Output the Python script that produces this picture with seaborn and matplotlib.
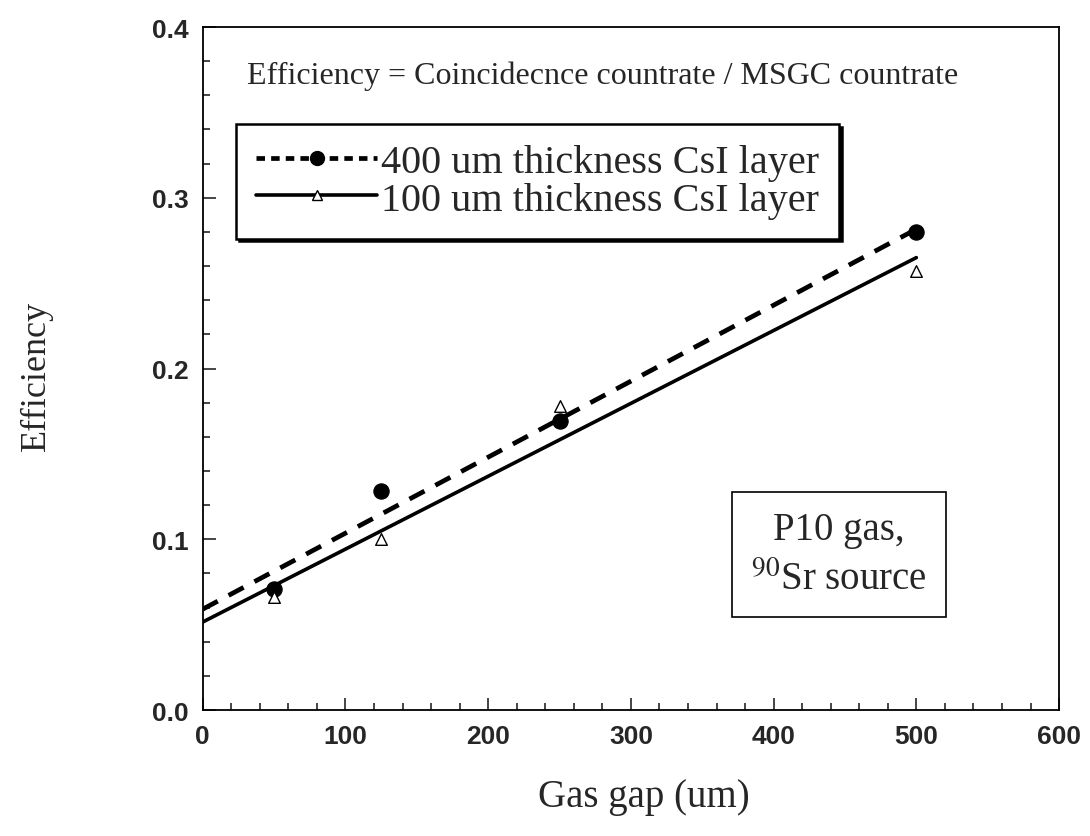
import numpy as np
import pandas as pd
import seaborn as sns
import matplotlib.pyplot as plt
from matplotlib.lines import Line2D
from matplotlib.ticker import MultipleLocator

# Values
gas_gap = [50, 125, 250, 500]
eff_400um = [0.071, 0.128, 0.169, 0.280]
eff_100um = [0.066, 0.100, 0.178, 0.257]

labels = ['400 um thickness CsI layer', '100 um thickness CsI layer']
x_ticks = [0, 100, 200, 300, 400, 500, 600]
y_ticks = [0.0, 0.1, 0.2, 0.3, 0.4]

sns.set_style('ticks')
plt.rcParams['font.family'] = ['Liberation Serif', 'DejaVu Serif']
plt.rcParams['mathtext.fontset'] = 'stix'

df = pd.DataFrame({
    'gap': gas_gap * 2,
    'eff': eff_400um + eff_100um,
    'layer': [labels[0]] * 4 + [labels[1]] * 4,
})

fig = plt.figure(figsize=(10.9, 8.37), dpi=100)
ax = fig.add_axes([0.186, 0.1505, 0.7856, 0.816])

# linear fits, drawn from 0 to the last point
fit_rows = []
for lab, ys in zip(labels, [eff_400um, eff_100um]):
    slope, icpt = np.polyfit(gas_gap, ys, 1)
    for xv in [0, max(gas_gap)]:
        fit_rows.append({'gap': xv, 'eff': icpt + slope * xv, 'layer': lab})
fits = pd.DataFrame(fit_rows)

sns.lineplot(data=fits[fits.layer == labels[0]], x='gap', y='eff', ax=ax,
             color='black', lw=3.4, legend=False)
ax.lines[-1].set_dashes([3.6, 2.6])
sns.lineplot(data=fits[fits.layer == labels[1]], x='gap', y='eff', ax=ax,
             color='black', lw=2.6, legend=False)

d400 = df[df.layer == labels[0]]
d100 = df[df.layer == labels[1]]
sns.scatterplot(data=d400, x='gap', y='eff', ax=ax, marker='o', s=120,
                color='black', edgecolor='black', zorder=5, legend=False)
sns.scatterplot(data=d100, x='gap', y='eff', ax=ax, marker='^', s=70,
                facecolor='white', edgecolor='black', linewidth=1.0,
                zorder=5, legend=False)

ax.set_xlim(0, 600)
ax.set_ylim(0, 0.4)
ax.set_xticks(x_ticks)
ax.set_yticks(y_ticks)
ax.set_xticklabels([str(t) for t in x_ticks])
ax.set_yticklabels([f'{t:.1f}' for t in y_ticks])
ax.xaxis.set_minor_locator(MultipleLocator(20))
ax.yaxis.set_minor_locator(MultipleLocator(0.02))
ax.tick_params(which='both', direction='in', top=False, right=False,
               width=1.2, labelsize=19)
ax.tick_params(which='major', length=9, pad=10)
ax.tick_params(which='minor', length=5)
for t in ax.get_xticklabels() + ax.get_yticklabels():
    t.set_fontfamily(['Liberation Sans', 'DejaVu Sans'])
    t.set_fontweight('bold')
for sp in ax.spines.values():
    sp.set_linewidth(1.3)
    sp.set_color('black')

ax.set_xlabel('Gas gap (um)', fontsize=28)
ax.set_ylabel('Efficiency', fontsize=26)
ax.xaxis.set_label_coords(0.515, -0.1)
ax.yaxis.set_label_coords(-0.175, 0.49)

ax.text(0.052, 0.93, 'Efficiency = Coincidecnce countrate / MSGC countrate',
        transform=ax.transAxes, fontsize=23, va='center', ha='left')

ax.text(0.743, 0.228, 'P10 gas,\n$^{90}$Sr source', transform=ax.transAxes,
        fontsize=28, ha='center', va='center', linespacing=1.45,
        bbox=dict(boxstyle='square,pad=0.5', fc='white', ec='black', lw=1.2))

handles = [
    Line2D([], [], color='black', lw=3.4, dashes=[1.8, 1.3], marker='o',
           markersize=10, markerfacecolor='black'),
    Line2D([], [], color='black', lw=2.6, marker='^', markersize=7,
           markerfacecolor='white', markeredgecolor='black'),
]
leg = ax.legend(handles, labels, loc='upper left', bbox_to_anchor=(0.039, 0.858),
                borderaxespad=0, fontsize=29, frameon=True, fancybox=False,
                shadow={'color': 'black', 'alpha': 1}, handlelength=3.0,
                handletextpad=0.1, borderpad=0.5, labelspacing=0.0)
leg.get_frame().set_edgecolor('black')
leg.get_frame().set_linewidth(1.8)
leg.get_frame().set_alpha(1)

fig.savefig('out.png', dpi=100)
